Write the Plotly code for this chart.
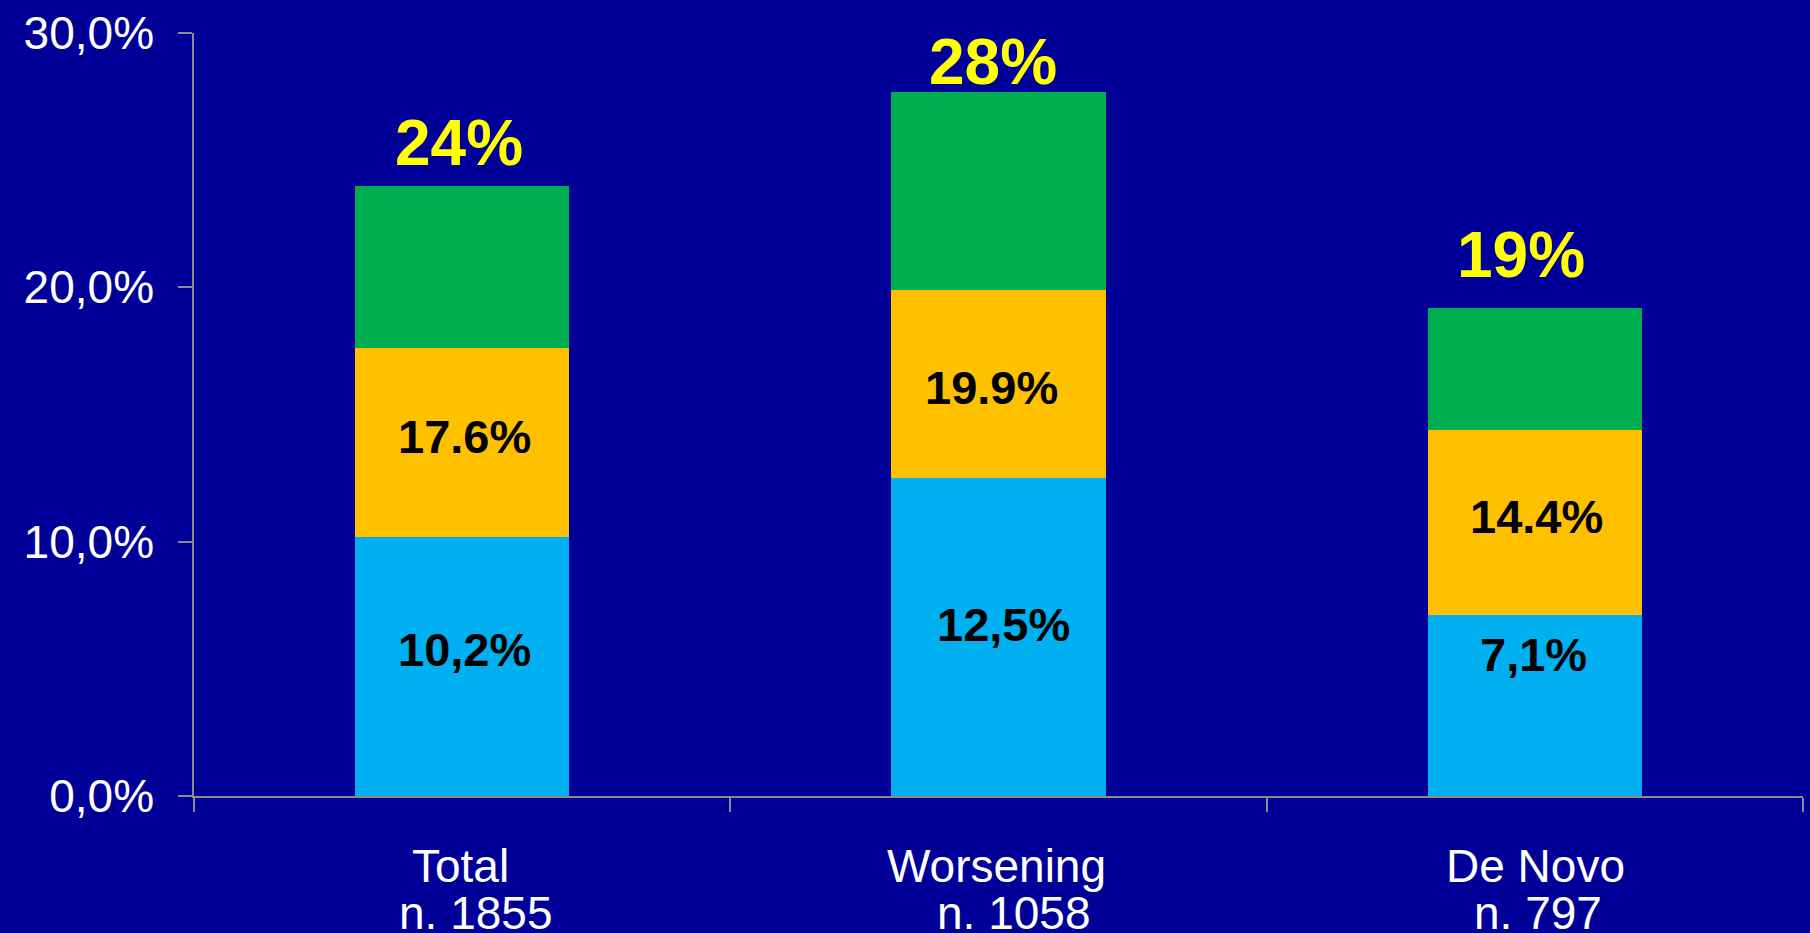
import plotly.graph_objects as go

# Categories and sample sizes
categories = ["Total", "Worsening", "De Novo"]
sample_sizes = ["n. 1855", "n. 1058", "n. 797"]

# Cumulative percentages per category
first_level = [10.2, 12.5, 7.1]        # lower (blue) segment
second_level_cum = [17.6, 19.9, 14.4]  # top of the orange segment
overall = [24.0, 27.7, 19.2]           # full bar height

y_tick_values = [0, 10, 20, 30]
y_tick_labels = ["0,0%", "10,0%", "20,0%", "30,0%"]

BG = "#000099"
BLUE = "#00B0F0"
ORANGE = "#FFC000"
GREEN = "#00B050"
YELLOW = "#FFFF00"
AXIS = "#8C8C8C"
FONT = "Liberation Sans, Arial, sans-serif"

second_part = [c - b for c, b in zip(second_level_cum, first_level)]
third_part = [t - c for t, c in zip(overall, second_level_cum)]

fig = go.Figure()
for name, vals, color in [
    ("Tier 1", first_level, BLUE),
    ("Tier 2", second_part, ORANGE),
    ("Tier 3", third_part, GREEN),
]:
    fig.add_trace(go.Bar(
        x=categories, y=vals, name=name,
        marker=dict(color=color, line=dict(width=0)),
        hoverinfo="skip",
    ))

annotations = []

# label nudges (pixels) for the in-bar values
blue_shift = [(2, 17), (5, 13), (-1, 51)]
orange_shift = [(2, 6), (-7, -4), (2, 6)]
top_shift = [(-3, 43), (-6, 30), (-14, 53)]

for i, cat in enumerate(categories):
    b = first_level[i]
    c = second_level_cum[i]
    t = overall[i]
    annotations.append(dict(
        x=cat, y=b / 2, xref="x", yref="y", showarrow=False,
        text=f"{b:.1f}".replace(".", ",") + "%",
        font=dict(family=FONT, size=47, color="black", weight="bold"),
        xanchor="center", yanchor="middle",
        xshift=blue_shift[i][0], yshift=blue_shift[i][1],
    ))
    annotations.append(dict(
        x=cat, y=(b + c) / 2, xref="x", yref="y", showarrow=False,
        text=f"{c:.1f}%",
        font=dict(family=FONT, size=47, color="black", weight="bold"),
        xanchor="center", yanchor="middle",
        xshift=orange_shift[i][0], yshift=orange_shift[i][1],
    ))
    annotations.append(dict(
        x=cat, y=t, xref="x", yref="y", showarrow=False,
        text=f"{t:.0f}%",
        font=dict(family=FONT, size=64, color=YELLOW, weight="bold"),
        xanchor="center", yanchor="middle",
        xshift=top_shift[i][0], yshift=top_shift[i][1],
    ))

# two-line category captions under the axis
n_shift = [13, 15, 3]
name_shift = [-2, -2, 1]
for i, cat in enumerate(categories):
    annotations.append(dict(
        x=cat, y=0, xref="x", yref="paper", showarrow=False,
        text=cat, font=dict(family=FONT, size=46, color="white"),
        xanchor="center", yanchor="middle", xshift=name_shift[i], yshift=-70,
    ))
    annotations.append(dict(
        x=cat, y=0, xref="x", yref="paper", showarrow=False,
        text=sample_sizes[i], font=dict(family=FONT, size=46, color="white"),
        xanchor="center", yanchor="middle", xshift=n_shift[i], yshift=-117,
    ))

fig.update_layout(
    width=1810, height=933,
    margin=dict(l=194, r=7, t=31, b=137),
    paper_bgcolor=BG, plot_bgcolor=BG,
    barmode="stack", bargap=0.6,
    showlegend=False,
    annotations=annotations,
    xaxis=dict(
        type="category", showgrid=False, zeroline=False,
        showline=True, linecolor=AXIS, linewidth=1.5,
        ticks="outside", tickson="boundaries", ticklen=14,
        tickcolor=AXIS, tickwidth=1.5,
        showticklabels=False,
    ),
    yaxis=dict(
        range=[0, 30], showgrid=False, zeroline=False,
        showline=True, linecolor=AXIS, linewidth=1.5,
        ticks="outside", ticklen=14, tickcolor=AXIS, tickwidth=1.5,
        tickvals=y_tick_values, ticktext=y_tick_labels,
        tickfont=dict(family=FONT, size=46, color="white"),
        ticklabelstandoff=15,
    ),
)

fig.write_html("out.html")
